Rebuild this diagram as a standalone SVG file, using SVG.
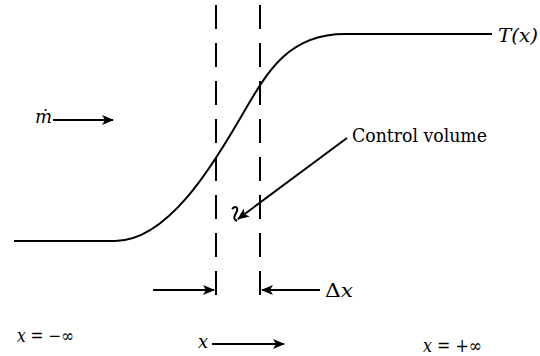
<svg xmlns="http://www.w3.org/2000/svg" width="540" height="356" viewBox="0 0 540 356">
<style>
text{fill:#000;font-family:"DejaVu Serif",serif}
.i{font-style:italic}
.ln{stroke:#000;stroke-width:2;fill:none}
.dash{stroke:#000;stroke-width:2;stroke-dasharray:24 14;fill:none}
</style>
<defs>
<marker id="ah" viewBox="0 0 12 10" refX="11" refY="5" markerWidth="13" markerHeight="10" markerUnits="userSpaceOnUse" orient="auto">
<path d="M0,0 L12,5 L0,10 L3,5 Z" fill="#000"/>
</marker>
</defs>
<rect width="540" height="356" fill="#fff"/>
<g id="curve">
<path class="ln" d="M14,241 H115 C168,241 214,163 238,122 C265,76 285,34 345,34 H492"/>
<text class="i" x="498" y="42" font-size="18" textLength="40" lengthAdjust="spacingAndGlyphs">T(x)</text>
</g>
<g id="control-volume">
<path class="dash" d="M216,5 V298"/>
<path class="dash" d="M260,5 V298"/>
<text x="352" y="142" font-size="19" textLength="135" lengthAdjust="spacingAndGlyphs">Control volume</text>
</g>
<g id="connectors">
<line class="ln" x1="53" y1="120" x2="113" y2="120" marker-end="url(#ah)"/>
<line class="ln" x1="347" y1="138" x2="238" y2="219" marker-end="url(#ah)"/>
<path class="ln" d="M232,209 C236,205 239,208 236,213 C234,217 233,219 237,221"/>
<line class="ln" x1="153" y1="290" x2="214" y2="290" marker-end="url(#ah)"/>
<line class="ln" x1="320" y1="290" x2="262" y2="290" marker-end="url(#ah)"/>
<line class="ln" x1="212" y1="344" x2="284" y2="344" marker-end="url(#ah)"/>
</g>
<g id="labels">
<text class="i" x="35" y="123" font-size="18">ṁ</text>
<text x="325" y="297" font-size="18" textLength="28" lengthAdjust="spacingAndGlyphs">Δ<tspan class="i">x</tspan></text>
<text x="17" y="342" font-size="18" textLength="57" lengthAdjust="spacingAndGlyphs"><tspan class="i">x</tspan> = −∞</text>
<text class="i" x="198" y="348" font-size="18">x</text>
<text x="423" y="352" font-size="18" textLength="59" lengthAdjust="spacingAndGlyphs"><tspan class="i">x</tspan> = +∞</text>
</g>
</svg>
